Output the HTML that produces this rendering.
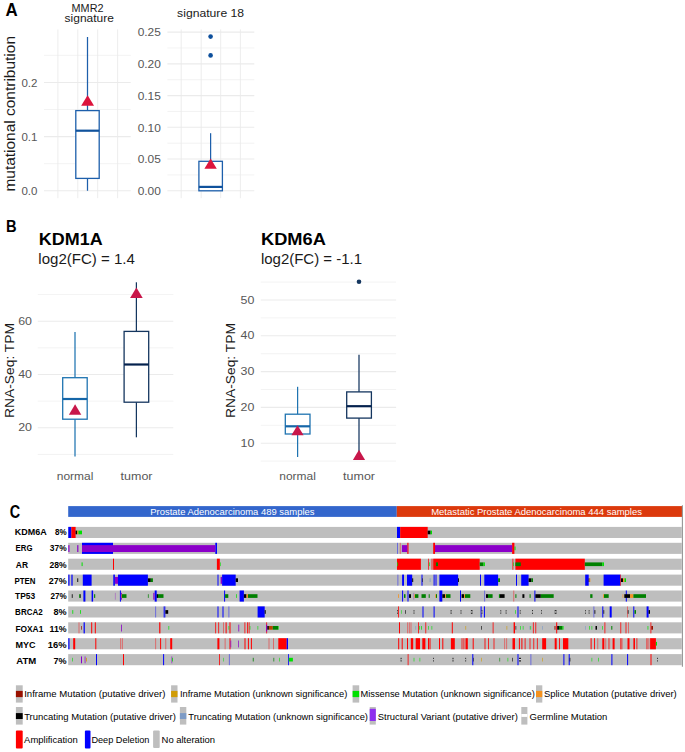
<!DOCTYPE html>
<html><head><meta charset="utf-8"><style>
html,body{margin:0;padding:0;background:#fff;}
#root{position:relative;width:685px;height:752px;overflow:hidden;background:#fff;}
svg{position:absolute;left:0;top:0;}
text{font-family:"Liberation Sans", sans-serif;}
</style></head><body><div id="root">
<svg width="685" height="752" viewBox="0 0 685 752" shape-rendering="auto">
<text x="5.40" y="15.50" font-size="17.6" fill="#000" font-weight="bold" text-anchor="start" textLength="12.20" lengthAdjust="spacingAndGlyphs" style='font-family:"Liberation Sans", sans-serif'>A</text>
<text x="71.60" y="11.50" font-size="10.6" fill="#1a1a1a" font-weight="normal" text-anchor="start" textLength="31.90" lengthAdjust="spacingAndGlyphs" style='font-family:"Liberation Sans", sans-serif'>MMR2</text>
<text x="64.60" y="22.30" font-size="11" fill="#1a1a1a" font-weight="normal" text-anchor="start" textLength="49.30" lengthAdjust="spacingAndGlyphs" style='font-family:"Liberation Sans", sans-serif'>signature</text>
<text x="177.10" y="16.90" font-size="10.8" fill="#1a1a1a" font-weight="normal" text-anchor="start" textLength="67.00" lengthAdjust="spacingAndGlyphs" style='font-family:"Liberation Sans", sans-serif'>signature 18</text>
<text x="15.50" y="191.60" font-size="14.5" fill="#1a1a1a" font-weight="normal" text-anchor="start" textLength="155.60" lengthAdjust="spacingAndGlyphs" transform="rotate(-90 15.50 191.60)" style='font-family:"Liberation Sans", sans-serif'>mutational contribution</text>
<line x1="44.00" y1="163.68" x2="130.70" y2="163.68" stroke="#ebebeb" stroke-width="0.6"/>
<line x1="44.00" y1="109.53" x2="130.70" y2="109.53" stroke="#ebebeb" stroke-width="0.6"/>
<line x1="44.00" y1="55.38" x2="130.70" y2="55.38" stroke="#ebebeb" stroke-width="0.6"/>
<line x1="44.00" y1="190.75" x2="130.70" y2="190.75" stroke="#ebebeb" stroke-width="1.1"/>
<line x1="44.00" y1="136.60" x2="130.70" y2="136.60" stroke="#ebebeb" stroke-width="1.1"/>
<line x1="44.00" y1="82.45" x2="130.70" y2="82.45" stroke="#ebebeb" stroke-width="1.1"/>
<line x1="57.90" y1="29.40" x2="57.90" y2="198.20" stroke="#ebebeb" stroke-width="0.9"/>
<line x1="77.80" y1="29.40" x2="77.80" y2="198.20" stroke="#ebebeb" stroke-width="0.9"/>
<line x1="97.70" y1="29.40" x2="97.70" y2="198.20" stroke="#ebebeb" stroke-width="0.9"/>
<line x1="117.60" y1="29.40" x2="117.60" y2="198.20" stroke="#ebebeb" stroke-width="0.9"/>
<text x="37.40" y="194.95" font-size="10" fill="#575757" font-weight="normal" text-anchor="end" textLength="16.00" lengthAdjust="spacingAndGlyphs" style='font-family:"Liberation Sans", sans-serif'>0.0</text>
<text x="37.40" y="140.80" font-size="10" fill="#575757" font-weight="normal" text-anchor="end" textLength="16.00" lengthAdjust="spacingAndGlyphs" style='font-family:"Liberation Sans", sans-serif'>0.1</text>
<text x="37.40" y="86.65" font-size="10" fill="#575757" font-weight="normal" text-anchor="end" textLength="16.00" lengthAdjust="spacingAndGlyphs" style='font-family:"Liberation Sans", sans-serif'>0.2</text>
<line x1="87.50" y1="37.00" x2="87.50" y2="110.60" stroke="#1d5fab" stroke-width="1.25"/>
<line x1="87.50" y1="178.40" x2="87.50" y2="190.75" stroke="#1d5fab" stroke-width="1.25"/>
<rect x="75.80" y="110.60" width="23.40" height="67.80" fill="#fff" stroke="#1d5fab" stroke-width="1.3"/>
<line x1="75.80" y1="130.70" x2="99.20" y2="130.70" stroke="#10529c" stroke-width="2.2"/>
<polygon points="87.60,95.20 81.15,105.80 94.05,105.80" fill="#dc143c"/>
<line x1="167.40" y1="174.93" x2="254.30" y2="174.93" stroke="#ebebeb" stroke-width="0.6"/>
<line x1="167.40" y1="143.19" x2="254.30" y2="143.19" stroke="#ebebeb" stroke-width="0.6"/>
<line x1="167.40" y1="111.45" x2="254.30" y2="111.45" stroke="#ebebeb" stroke-width="0.6"/>
<line x1="167.40" y1="79.71" x2="254.30" y2="79.71" stroke="#ebebeb" stroke-width="0.6"/>
<line x1="167.40" y1="47.97" x2="254.30" y2="47.97" stroke="#ebebeb" stroke-width="0.6"/>
<line x1="167.40" y1="190.80" x2="254.30" y2="190.80" stroke="#ebebeb" stroke-width="1.1"/>
<line x1="167.40" y1="159.06" x2="254.30" y2="159.06" stroke="#ebebeb" stroke-width="1.1"/>
<line x1="167.40" y1="127.32" x2="254.30" y2="127.32" stroke="#ebebeb" stroke-width="1.1"/>
<line x1="167.40" y1="95.58" x2="254.30" y2="95.58" stroke="#ebebeb" stroke-width="1.1"/>
<line x1="167.40" y1="63.84" x2="254.30" y2="63.84" stroke="#ebebeb" stroke-width="1.1"/>
<line x1="167.40" y1="32.10" x2="254.30" y2="32.10" stroke="#ebebeb" stroke-width="1.1"/>
<line x1="181.20" y1="29.40" x2="181.20" y2="198.20" stroke="#ebebeb" stroke-width="0.9"/>
<line x1="201.20" y1="29.40" x2="201.20" y2="198.20" stroke="#ebebeb" stroke-width="0.9"/>
<line x1="220.70" y1="29.40" x2="220.70" y2="198.20" stroke="#ebebeb" stroke-width="0.9"/>
<line x1="240.40" y1="29.40" x2="240.40" y2="198.20" stroke="#ebebeb" stroke-width="0.9"/>
<text x="160.90" y="195.00" font-size="10" fill="#575757" font-weight="normal" text-anchor="end" textLength="23.20" lengthAdjust="spacingAndGlyphs" style='font-family:"Liberation Sans", sans-serif'>0.00</text>
<text x="160.90" y="163.26" font-size="10" fill="#575757" font-weight="normal" text-anchor="end" textLength="23.20" lengthAdjust="spacingAndGlyphs" style='font-family:"Liberation Sans", sans-serif'>0.05</text>
<text x="160.90" y="131.52" font-size="10" fill="#575757" font-weight="normal" text-anchor="end" textLength="23.20" lengthAdjust="spacingAndGlyphs" style='font-family:"Liberation Sans", sans-serif'>0.10</text>
<text x="160.90" y="99.78" font-size="10" fill="#575757" font-weight="normal" text-anchor="end" textLength="23.20" lengthAdjust="spacingAndGlyphs" style='font-family:"Liberation Sans", sans-serif'>0.15</text>
<text x="160.90" y="68.04" font-size="10" fill="#575757" font-weight="normal" text-anchor="end" textLength="23.20" lengthAdjust="spacingAndGlyphs" style='font-family:"Liberation Sans", sans-serif'>0.20</text>
<text x="160.90" y="36.30" font-size="10" fill="#575757" font-weight="normal" text-anchor="end" textLength="23.20" lengthAdjust="spacingAndGlyphs" style='font-family:"Liberation Sans", sans-serif'>0.25</text>
<line x1="210.60" y1="133.20" x2="210.60" y2="161.30" stroke="#1d5fab" stroke-width="1.25"/>
<rect x="198.90" y="161.30" width="23.50" height="29.50" fill="#fff" stroke="#1d5fab" stroke-width="1.3"/>
<line x1="198.90" y1="186.90" x2="222.40" y2="186.90" stroke="#10529c" stroke-width="2.2"/>
<polygon points="210.60,158.40 204.40,168.80 216.80,168.80" fill="#dc143c"/>
<circle cx="210.60" cy="36.60" r="2.3" fill="#0d4f9c"/>
<circle cx="210.60" cy="55.40" r="2.3" fill="#0d4f9c"/>
<text x="6.00" y="232.00" font-size="17.2" fill="#000" font-weight="bold" text-anchor="start" textLength="10.60" lengthAdjust="spacingAndGlyphs" style='font-family:"Liberation Sans", sans-serif'>B</text>
<text x="38.80" y="244.60" font-size="15.6" fill="#000" font-weight="bold" text-anchor="start" textLength="63.80" lengthAdjust="spacingAndGlyphs" style='font-family:"Liberation Sans", sans-serif'>KDM1A</text>
<text x="38.30" y="264.10" font-size="14" fill="#1a1a1a" font-weight="normal" text-anchor="start" textLength="96.60" lengthAdjust="spacingAndGlyphs" style='font-family:"Liberation Sans", sans-serif'>log2(FC) = 1.4</text>
<text x="261.00" y="244.60" font-size="15.6" fill="#000" font-weight="bold" text-anchor="start" textLength="64.80" lengthAdjust="spacingAndGlyphs" style='font-family:"Liberation Sans", sans-serif'>KDM6A</text>
<text x="260.90" y="264.10" font-size="14" fill="#1a1a1a" font-weight="normal" text-anchor="start" textLength="101.20" lengthAdjust="spacingAndGlyphs" style='font-family:"Liberation Sans", sans-serif'>log2(FC) = -1.1</text>
<line x1="37.80" y1="454.45" x2="173.30" y2="454.45" stroke="#ebebeb" stroke-width="0.6"/>
<line x1="37.80" y1="401.15" x2="173.30" y2="401.15" stroke="#ebebeb" stroke-width="0.6"/>
<line x1="37.80" y1="347.85" x2="173.30" y2="347.85" stroke="#ebebeb" stroke-width="0.6"/>
<line x1="37.80" y1="294.55" x2="173.30" y2="294.55" stroke="#ebebeb" stroke-width="0.6"/>
<line x1="37.80" y1="427.80" x2="173.30" y2="427.80" stroke="#ebebeb" stroke-width="1.1"/>
<line x1="37.80" y1="374.50" x2="173.30" y2="374.50" stroke="#ebebeb" stroke-width="1.1"/>
<line x1="37.80" y1="321.20" x2="173.30" y2="321.20" stroke="#ebebeb" stroke-width="1.1"/>
<text x="32.00" y="431.40" font-size="10" fill="#575757" font-weight="normal" text-anchor="end" textLength="13.80" lengthAdjust="spacingAndGlyphs" style='font-family:"Liberation Sans", sans-serif'>20</text>
<text x="32.00" y="378.10" font-size="10" fill="#575757" font-weight="normal" text-anchor="end" textLength="13.80" lengthAdjust="spacingAndGlyphs" style='font-family:"Liberation Sans", sans-serif'>40</text>
<text x="32.00" y="324.80" font-size="10" fill="#575757" font-weight="normal" text-anchor="end" textLength="13.80" lengthAdjust="spacingAndGlyphs" style='font-family:"Liberation Sans", sans-serif'>60</text>
<text x="14.30" y="418.00" font-size="13.5" fill="#1a1a1a" font-weight="normal" text-anchor="start" textLength="95.00" lengthAdjust="spacingAndGlyphs" transform="rotate(-90 14.30 418.00)" style='font-family:"Liberation Sans", sans-serif'>RNA-Seq: TPM</text>
<line x1="75.00" y1="332.00" x2="75.00" y2="377.70" stroke="#1f74b1" stroke-width="1.25"/>
<line x1="75.00" y1="419.20" x2="75.00" y2="456.40" stroke="#1f74b1" stroke-width="1.25"/>
<rect x="62.70" y="377.70" width="24.50" height="41.50" fill="#fff" stroke="#1f74b1" stroke-width="1.3"/>
<line x1="62.70" y1="399.00" x2="87.20" y2="399.00" stroke="#1566a8" stroke-width="2.2"/>
<polygon points="75.10,404.30 68.90,414.80 81.30,414.80" fill="#c8174a"/>
<line x1="136.40" y1="282.30" x2="136.40" y2="331.40" stroke="#14365f" stroke-width="1.25"/>
<line x1="136.40" y1="402.20" x2="136.40" y2="437.30" stroke="#14365f" stroke-width="1.25"/>
<rect x="124.10" y="331.40" width="24.60" height="70.80" fill="#fff" stroke="#14365f" stroke-width="1.3"/>
<line x1="124.10" y1="364.50" x2="148.70" y2="364.50" stroke="#04214d" stroke-width="2.2"/>
<polygon points="136.40,287.60 130.10,298.10 142.70,298.10" fill="#c8174a"/>
<text x="56.80" y="479.50" font-size="10.5" fill="#575757" font-weight="normal" text-anchor="start" textLength="36.60" lengthAdjust="spacingAndGlyphs" style='font-family:"Liberation Sans", sans-serif'>normal</text>
<text x="120.60" y="479.50" font-size="10.5" fill="#575757" font-weight="normal" text-anchor="start" textLength="31.90" lengthAdjust="spacingAndGlyphs" style='font-family:"Liberation Sans", sans-serif'>tumor</text>
<line x1="260.80" y1="461.10" x2="396.10" y2="461.10" stroke="#ebebeb" stroke-width="0.6"/>
<line x1="260.80" y1="425.30" x2="396.10" y2="425.30" stroke="#ebebeb" stroke-width="0.6"/>
<line x1="260.80" y1="389.50" x2="396.10" y2="389.50" stroke="#ebebeb" stroke-width="0.6"/>
<line x1="260.80" y1="353.70" x2="396.10" y2="353.70" stroke="#ebebeb" stroke-width="0.6"/>
<line x1="260.80" y1="317.90" x2="396.10" y2="317.90" stroke="#ebebeb" stroke-width="0.6"/>
<line x1="260.80" y1="282.10" x2="396.10" y2="282.10" stroke="#ebebeb" stroke-width="0.6"/>
<line x1="260.80" y1="443.20" x2="396.10" y2="443.20" stroke="#ebebeb" stroke-width="1.1"/>
<line x1="260.80" y1="407.40" x2="396.10" y2="407.40" stroke="#ebebeb" stroke-width="1.1"/>
<line x1="260.80" y1="371.60" x2="396.10" y2="371.60" stroke="#ebebeb" stroke-width="1.1"/>
<line x1="260.80" y1="335.80" x2="396.10" y2="335.80" stroke="#ebebeb" stroke-width="1.1"/>
<line x1="260.80" y1="300.00" x2="396.10" y2="300.00" stroke="#ebebeb" stroke-width="1.1"/>
<text x="254.40" y="446.80" font-size="10" fill="#575757" font-weight="normal" text-anchor="end" textLength="13.80" lengthAdjust="spacingAndGlyphs" style='font-family:"Liberation Sans", sans-serif'>10</text>
<text x="254.40" y="411.00" font-size="10" fill="#575757" font-weight="normal" text-anchor="end" textLength="13.80" lengthAdjust="spacingAndGlyphs" style='font-family:"Liberation Sans", sans-serif'>20</text>
<text x="254.40" y="375.20" font-size="10" fill="#575757" font-weight="normal" text-anchor="end" textLength="13.80" lengthAdjust="spacingAndGlyphs" style='font-family:"Liberation Sans", sans-serif'>30</text>
<text x="254.40" y="339.40" font-size="10" fill="#575757" font-weight="normal" text-anchor="end" textLength="13.80" lengthAdjust="spacingAndGlyphs" style='font-family:"Liberation Sans", sans-serif'>40</text>
<text x="254.40" y="303.60" font-size="10" fill="#575757" font-weight="normal" text-anchor="end" textLength="13.80" lengthAdjust="spacingAndGlyphs" style='font-family:"Liberation Sans", sans-serif'>50</text>
<text x="235.40" y="418.00" font-size="13.5" fill="#1a1a1a" font-weight="normal" text-anchor="start" textLength="95.00" lengthAdjust="spacingAndGlyphs" transform="rotate(-90 235.40 418.00)" style='font-family:"Liberation Sans", sans-serif'>RNA-Seq: TPM</text>
<line x1="297.60" y1="386.80" x2="297.60" y2="414.20" stroke="#1f74b1" stroke-width="1.25"/>
<line x1="297.60" y1="434.00" x2="297.60" y2="457.00" stroke="#1f74b1" stroke-width="1.25"/>
<rect x="285.30" y="414.20" width="24.70" height="19.80" fill="#fff" stroke="#1f74b1" stroke-width="1.3"/>
<line x1="285.30" y1="426.30" x2="310.00" y2="426.30" stroke="#1566a8" stroke-width="2.2"/>
<polygon points="297.50,425.20 291.40,435.30 303.60,435.30" fill="#c8174a"/>
<line x1="359.00" y1="354.80" x2="359.00" y2="391.90" stroke="#14365f" stroke-width="1.25"/>
<line x1="359.00" y1="418.10" x2="359.00" y2="457.00" stroke="#14365f" stroke-width="1.25"/>
<rect x="346.70" y="391.90" width="24.70" height="26.20" fill="#fff" stroke="#14365f" stroke-width="1.3"/>
<line x1="346.70" y1="406.20" x2="371.40" y2="406.20" stroke="#04214d" stroke-width="2.2"/>
<polygon points="359.00,449.70 352.90,460.10 365.10,460.10" fill="#c8174a"/>
<circle cx="359.00" cy="281.80" r="2.3" fill="#14365f"/>
<text x="279.30" y="479.50" font-size="10.5" fill="#575757" font-weight="normal" text-anchor="start" textLength="36.60" lengthAdjust="spacingAndGlyphs" style='font-family:"Liberation Sans", sans-serif'>normal</text>
<text x="343.10" y="479.50" font-size="10.5" fill="#575757" font-weight="normal" text-anchor="start" textLength="31.90" lengthAdjust="spacingAndGlyphs" style='font-family:"Liberation Sans", sans-serif'>tumor</text>
<text x="9.70" y="518.20" font-size="18.2" fill="#000" font-weight="bold" text-anchor="start" textLength="10.40" lengthAdjust="spacingAndGlyphs" style='font-family:"Liberation Sans", sans-serif'>C</text>
<rect x="68.20" y="506.10" width="328.60" height="10.80" fill="#3366cc"/>
<rect x="396.80" y="506.10" width="285.50" height="10.80" fill="#dc390c"/>
<text x="150.30" y="515.30" font-size="9" fill="#fff" font-weight="normal" text-anchor="start" textLength="164.20" lengthAdjust="spacingAndGlyphs" style='font-family:"Liberation Sans", sans-serif'>Prostate Adenocarcinoma 489 samples</text>
<text x="431.20" y="515.30" font-size="9" fill="#fff" font-weight="normal" text-anchor="start" textLength="210.80" lengthAdjust="spacingAndGlyphs" style='font-family:"Liberation Sans", sans-serif'>Metastatic Prostate Adenocarcinoma 444 samples</text>
<line x1="682.40" y1="505.30" x2="682.40" y2="666.80" stroke="#959595" stroke-width="1.1"/>
<rect x="68.20" y="526.90" width="613.60" height="11.10" fill="#bebebe"/>
<text x="14.80" y="535.20" font-size="8.8" fill="#000" font-weight="bold" text-anchor="start" textLength="31.90" lengthAdjust="spacingAndGlyphs" style='font-family:"Liberation Sans", sans-serif'>KDM6A</text>
<text x="55.00" y="535.20" font-size="8.8" fill="#000" font-weight="bold" text-anchor="start" textLength="11.60" lengthAdjust="spacingAndGlyphs" style='font-family:"Liberation Sans", sans-serif'>8%</text>
<rect x="68.30" y="526.90" width="3.10" height="11.10" fill="#0000ff" fill-opacity="1"/>
<rect x="71.40" y="526.90" width="4.20" height="11.10" fill="#ff0000" fill-opacity="1"/>
<rect x="397.00" y="526.90" width="3.20" height="11.10" fill="#0000ff" fill-opacity="1"/>
<rect x="400.20" y="526.90" width="27.50" height="11.10" fill="#ff0000" fill-opacity="1"/>
<rect x="75.60" y="530.60" width="1.60" height="3.70" fill="#000000" fill-opacity="1"/>
<rect x="77.20" y="530.60" width="1.30" height="3.70" fill="#d09c06" fill-opacity="1"/>
<rect x="78.50" y="530.60" width="3.50" height="3.70" fill="#00e000" fill-opacity="1"/>
<rect x="427.70" y="530.60" width="2.90" height="3.70" fill="#000000" fill-opacity="1"/>
<rect x="430.60" y="530.60" width="1.40" height="3.70" fill="#00e000" fill-opacity="1"/>
<rect x="68.20" y="542.80" width="613.60" height="11.10" fill="#bebebe"/>
<text x="15.60" y="550.70" font-size="8.8" fill="#000" font-weight="bold" text-anchor="start" textLength="16.90" lengthAdjust="spacingAndGlyphs" style='font-family:"Liberation Sans", sans-serif'>ERG</text>
<text x="49.80" y="550.70" font-size="8.8" fill="#000" font-weight="bold" text-anchor="start" textLength="16.80" lengthAdjust="spacingAndGlyphs" style='font-family:"Liberation Sans", sans-serif'>37%</text>
<rect x="82.00" y="542.80" width="31.00" height="11.10" fill="#0000ff" fill-opacity="1"/>
<rect x="215.30" y="542.80" width="1.70" height="11.10" fill="#0000ff" fill-opacity="1"/>
<rect x="397.00" y="542.80" width="0.80" height="11.10" fill="#0000ff" fill-opacity="0.55"/>
<rect x="399.80" y="542.80" width="0.80" height="11.10" fill="#ff0000" fill-opacity="0.55"/>
<rect x="407.30" y="542.80" width="1.20" height="11.10" fill="#ff0000" fill-opacity="1"/>
<rect x="433.20" y="542.80" width="1.80" height="11.10" fill="#ff0000" fill-opacity="1"/>
<rect x="512.10" y="542.80" width="2.30" height="11.10" fill="#ff0000" fill-opacity="1"/>
<rect x="68.30" y="545.13" width="1.20" height="6.88" fill="#8b00c9" fill-opacity="1"/>
<rect x="77.20" y="545.13" width="1.20" height="6.88" fill="#8b00c9" fill-opacity="1"/>
<rect x="82.00" y="545.13" width="133.30" height="6.88" fill="#8b00c9" fill-opacity="1"/>
<rect x="401.90" y="545.13" width="5.40" height="6.88" fill="#8b00c9" fill-opacity="1"/>
<rect x="435.00" y="545.13" width="77.10" height="6.88" fill="#8b00c9" fill-opacity="1"/>
<rect x="514.50" y="546.50" width="1.00" height="3.70" fill="#00e000" fill-opacity="1"/>
<rect x="68.20" y="558.70" width="613.60" height="11.10" fill="#bebebe"/>
<text x="15.80" y="568.00" font-size="8.8" fill="#000" font-weight="bold" text-anchor="start" textLength="12.20" lengthAdjust="spacingAndGlyphs" style='font-family:"Liberation Sans", sans-serif'>AR</text>
<text x="49.50" y="568.00" font-size="8.8" fill="#000" font-weight="bold" text-anchor="start" textLength="17.10" lengthAdjust="spacingAndGlyphs" style='font-family:"Liberation Sans", sans-serif'>28%</text>
<rect x="113.00" y="558.70" width="1.00" height="11.10" fill="#ff0000" fill-opacity="1"/>
<rect x="216.90" y="558.70" width="2.90" height="11.10" fill="#ff0000" fill-opacity="1"/>
<rect x="397.00" y="558.70" width="23.90" height="11.10" fill="#ff0000" fill-opacity="1"/>
<rect x="428.30" y="558.70" width="0.70" height="11.10" fill="#ff0000" fill-opacity="1"/>
<rect x="431.60" y="558.70" width="0.80" height="11.10" fill="#ff0000" fill-opacity="1"/>
<rect x="433.20" y="558.70" width="46.50" height="11.10" fill="#ff0000" fill-opacity="1"/>
<rect x="512.50" y="558.70" width="0.80" height="11.10" fill="#ff0000" fill-opacity="1"/>
<rect x="515.40" y="558.70" width="69.40" height="11.10" fill="#ff0000" fill-opacity="1"/>
<rect x="81.60" y="562.40" width="1.00" height="3.70" fill="#00e000" fill-opacity="1"/>
<rect x="220.00" y="562.40" width="0.60" height="3.70" fill="#00e000" fill-opacity="1"/>
<rect x="397.30" y="562.40" width="0.70" height="3.70" fill="#00e000" fill-opacity="1"/>
<rect x="429.10" y="562.40" width="0.60" height="3.70" fill="#00e000" fill-opacity="1"/>
<rect x="435.90" y="562.40" width="2.10" height="3.70" fill="#008000" fill-opacity="1"/>
<rect x="479.70" y="562.40" width="3.80" height="3.70" fill="#008000" fill-opacity="1"/>
<rect x="483.50" y="562.40" width="1.40" height="3.70" fill="#00e000" fill-opacity="1"/>
<rect x="513.40" y="562.40" width="0.60" height="3.70" fill="#00e000" fill-opacity="1"/>
<rect x="515.40" y="562.40" width="5.40" height="3.70" fill="#008000" fill-opacity="1"/>
<rect x="584.80" y="562.40" width="17.50" height="3.70" fill="#008000" fill-opacity="1"/>
<rect x="602.30" y="562.40" width="1.70" height="3.70" fill="#00e000" fill-opacity="1"/>
<rect x="68.20" y="574.60" width="613.60" height="11.10" fill="#bebebe"/>
<text x="14.50" y="583.50" font-size="8.8" fill="#000" font-weight="bold" text-anchor="start" textLength="21.00" lengthAdjust="spacingAndGlyphs" style='font-family:"Liberation Sans", sans-serif'>PTEN</text>
<text x="48.70" y="583.50" font-size="8.8" fill="#000" font-weight="bold" text-anchor="start" textLength="17.90" lengthAdjust="spacingAndGlyphs" style='font-family:"Liberation Sans", sans-serif'>27%</text>
<rect x="68.30" y="574.60" width="1.20" height="11.10" fill="#0000ff" fill-opacity="1"/>
<rect x="71.40" y="574.60" width="1.20" height="11.10" fill="#0000ff" fill-opacity="1"/>
<rect x="82.80" y="574.60" width="8.80" height="11.10" fill="#0000ff" fill-opacity="1"/>
<rect x="113.30" y="574.60" width="1.60" height="11.10" fill="#0000ff" fill-opacity="1"/>
<rect x="118.00" y="574.60" width="29.90" height="11.10" fill="#0000ff" fill-opacity="1"/>
<rect x="217.50" y="574.60" width="1.00" height="11.10" fill="#0000ff" fill-opacity="1"/>
<rect x="222.10" y="574.60" width="13.60" height="11.10" fill="#0000ff" fill-opacity="1"/>
<rect x="397.50" y="574.60" width="0.80" height="11.10" fill="#0000ff" fill-opacity="0.55"/>
<rect x="402.10" y="574.60" width="1.90" height="11.10" fill="#0000ff" fill-opacity="1"/>
<rect x="407.00" y="574.60" width="5.20" height="11.10" fill="#0000ff" fill-opacity="1"/>
<rect x="421.50" y="574.60" width="1.00" height="11.10" fill="#0000ff" fill-opacity="1"/>
<rect x="433.60" y="574.60" width="1.00" height="11.10" fill="#0000ff" fill-opacity="1"/>
<rect x="435.50" y="574.60" width="1.00" height="11.10" fill="#0000ff" fill-opacity="1"/>
<rect x="439.40" y="574.60" width="18.70" height="11.10" fill="#0000ff" fill-opacity="1"/>
<rect x="480.00" y="574.60" width="1.00" height="11.10" fill="#0000ff" fill-opacity="1"/>
<rect x="484.30" y="574.60" width="13.80" height="11.10" fill="#0000ff" fill-opacity="1"/>
<rect x="516.00" y="574.60" width="1.00" height="11.10" fill="#0000ff" fill-opacity="1"/>
<rect x="521.20" y="574.60" width="7.40" height="11.10" fill="#0000ff" fill-opacity="1"/>
<rect x="585.20" y="574.60" width="3.50" height="11.10" fill="#0000ff" fill-opacity="1"/>
<rect x="603.60" y="574.60" width="16.80" height="11.10" fill="#0000ff" fill-opacity="1"/>
<rect x="620.40" y="574.60" width="0.60" height="11.10" fill="#ff0000" fill-opacity="1"/>
<rect x="114.90" y="576.93" width="3.10" height="6.88" fill="#8b00c9" fill-opacity="1"/>
<rect x="220.60" y="576.93" width="1.40" height="6.88" fill="#8b00c9" fill-opacity="1"/>
<rect x="77.30" y="578.30" width="0.90" height="3.70" fill="#000000" fill-opacity="1"/>
<rect x="147.90" y="578.30" width="2.90" height="3.70" fill="#000000" fill-opacity="1"/>
<rect x="150.80" y="578.30" width="2.10" height="3.70" fill="#008000" fill-opacity="1"/>
<rect x="235.70" y="578.30" width="2.30" height="3.70" fill="#000000" fill-opacity="1"/>
<rect x="412.20" y="578.30" width="1.00" height="3.70" fill="#000000" fill-opacity="1"/>
<rect x="422.50" y="578.30" width="0.50" height="3.70" fill="#000000" fill-opacity="1"/>
<rect x="429.70" y="578.30" width="0.80" height="3.70" fill="#7d9bc6" fill-opacity="1"/>
<rect x="458.10" y="578.30" width="0.90" height="3.70" fill="#000000" fill-opacity="1"/>
<rect x="498.10" y="578.30" width="1.90" height="3.70" fill="#008000" fill-opacity="1"/>
<rect x="528.60" y="578.30" width="2.90" height="3.70" fill="#000000" fill-opacity="1"/>
<rect x="531.50" y="578.30" width="1.50" height="3.70" fill="#008000" fill-opacity="1"/>
<rect x="588.70" y="578.30" width="0.80" height="3.70" fill="#000000" fill-opacity="1"/>
<rect x="589.50" y="578.30" width="0.80" height="3.70" fill="#f5921e" fill-opacity="1"/>
<rect x="621.00" y="578.30" width="2.00" height="3.70" fill="#000000" fill-opacity="1"/>
<rect x="623.00" y="578.30" width="1.50" height="3.70" fill="#f5921e" fill-opacity="1"/>
<rect x="624.50" y="578.30" width="1.50" height="3.70" fill="#00e000" fill-opacity="1"/>
<rect x="68.20" y="590.50" width="613.60" height="11.10" fill="#bebebe"/>
<text x="15.10" y="598.80" font-size="8.8" fill="#000" font-weight="bold" text-anchor="start" textLength="20.10" lengthAdjust="spacingAndGlyphs" style='font-family:"Liberation Sans", sans-serif'>TP53</text>
<text x="50.40" y="598.80" font-size="8.8" fill="#000" font-weight="bold" text-anchor="start" textLength="16.20" lengthAdjust="spacingAndGlyphs" style='font-family:"Liberation Sans", sans-serif'>27%</text>
<rect x="83.40" y="590.50" width="2.00" height="11.10" fill="#0000ff" fill-opacity="1"/>
<rect x="91.60" y="590.50" width="1.50" height="11.10" fill="#0000ff" fill-opacity="1"/>
<rect x="119.90" y="590.50" width="1.00" height="11.10" fill="#0000ff" fill-opacity="1"/>
<rect x="154.70" y="590.50" width="2.00" height="11.10" fill="#0000ff" fill-opacity="1"/>
<rect x="224.10" y="590.50" width="1.00" height="11.10" fill="#0000ff" fill-opacity="1"/>
<rect x="239.60" y="590.50" width="4.30" height="11.10" fill="#0000ff" fill-opacity="1"/>
<rect x="402.10" y="590.50" width="1.00" height="11.10" fill="#0000ff" fill-opacity="1"/>
<rect x="407.50" y="590.50" width="1.00" height="11.10" fill="#0000ff" fill-opacity="1"/>
<rect x="439.40" y="590.50" width="2.90" height="11.10" fill="#0000ff" fill-opacity="1"/>
<rect x="460.00" y="590.50" width="1.00" height="11.10" fill="#0000ff" fill-opacity="1"/>
<rect x="484.30" y="590.50" width="0.80" height="11.10" fill="#0000ff" fill-opacity="0.55"/>
<rect x="513.40" y="590.50" width="0.80" height="11.10" fill="#ff0000" fill-opacity="0.55"/>
<rect x="534.40" y="590.50" width="1.00" height="11.10" fill="#0000ff" fill-opacity="1"/>
<rect x="625.80" y="590.50" width="1.00" height="11.10" fill="#0000ff" fill-opacity="1"/>
<rect x="114.90" y="592.83" width="0.80" height="6.88" fill="#8b00c9" fill-opacity="0.4"/>
<rect x="120.90" y="592.83" width="1.00" height="6.88" fill="#8b00c9" fill-opacity="1"/>
<rect x="153.30" y="592.83" width="1.20" height="6.88" fill="#8b00c9" fill-opacity="1"/>
<rect x="413.40" y="592.83" width="0.80" height="6.88" fill="#8b00c9" fill-opacity="0.4"/>
<rect x="71.80" y="594.20" width="0.80" height="3.70" fill="#000000" fill-opacity="1"/>
<rect x="79.20" y="594.20" width="1.00" height="3.70" fill="#008000" fill-opacity="1"/>
<rect x="80.20" y="594.20" width="0.60" height="3.70" fill="#000000" fill-opacity="1"/>
<rect x="94.10" y="594.20" width="1.10" height="3.70" fill="#008000" fill-opacity="1"/>
<rect x="121.50" y="594.20" width="0.50" height="3.70" fill="#f5921e" fill-opacity="1"/>
<rect x="121.90" y="594.20" width="4.60" height="3.70" fill="#008000" fill-opacity="1"/>
<rect x="147.90" y="594.20" width="0.70" height="3.70" fill="#008000" fill-opacity="1"/>
<rect x="156.70" y="594.20" width="1.30" height="3.70" fill="#000000" fill-opacity="1"/>
<rect x="158.00" y="594.20" width="5.50" height="3.70" fill="#008000" fill-opacity="1"/>
<rect x="225.10" y="594.20" width="3.20" height="3.70" fill="#008000" fill-opacity="1"/>
<rect x="236.30" y="594.20" width="0.70" height="3.70" fill="#00e000" fill-opacity="1"/>
<rect x="243.90" y="594.20" width="2.60" height="3.70" fill="#000000" fill-opacity="1"/>
<rect x="246.50" y="594.20" width="1.50" height="3.70" fill="#f5921e" fill-opacity="1"/>
<rect x="248.00" y="594.20" width="9.50" height="3.70" fill="#008000" fill-opacity="1"/>
<rect x="398.20" y="594.20" width="0.80" height="3.70" fill="#f5921e" fill-opacity="1"/>
<rect x="404.00" y="594.20" width="1.50" height="3.70" fill="#008000" fill-opacity="1"/>
<rect x="409.00" y="594.20" width="2.00" height="3.70" fill="#000000" fill-opacity="1"/>
<rect x="414.30" y="594.20" width="0.70" height="3.70" fill="#f5921e" fill-opacity="1"/>
<rect x="415.00" y="594.20" width="3.40" height="3.70" fill="#008000" fill-opacity="1"/>
<rect x="421.50" y="594.20" width="4.30" height="3.70" fill="#008000" fill-opacity="1"/>
<rect x="428.70" y="594.20" width="1.00" height="3.70" fill="#008000" fill-opacity="1"/>
<rect x="435.30" y="594.20" width="0.70" height="3.70" fill="#f5921e" fill-opacity="1"/>
<rect x="436.00" y="594.20" width="1.00" height="3.70" fill="#008000" fill-opacity="1"/>
<rect x="442.30" y="594.20" width="2.70" height="3.70" fill="#000000" fill-opacity="1"/>
<rect x="445.00" y="594.20" width="1.00" height="3.70" fill="#f5921e" fill-opacity="1"/>
<rect x="446.00" y="594.20" width="4.50" height="3.70" fill="#008000" fill-opacity="1"/>
<rect x="461.60" y="594.20" width="2.40" height="3.70" fill="#000000" fill-opacity="1"/>
<rect x="464.00" y="594.20" width="1.00" height="3.70" fill="#f5921e" fill-opacity="1"/>
<rect x="465.00" y="594.20" width="5.30" height="3.70" fill="#008000" fill-opacity="1"/>
<rect x="486.00" y="594.20" width="2.00" height="3.70" fill="#000000" fill-opacity="1"/>
<rect x="488.00" y="594.20" width="4.60" height="3.70" fill="#008000" fill-opacity="1"/>
<rect x="498.90" y="594.20" width="1.10" height="3.70" fill="#008000" fill-opacity="1"/>
<rect x="500.00" y="594.20" width="4.60" height="3.70" fill="#000000" fill-opacity="1"/>
<rect x="515.40" y="594.20" width="1.00" height="3.70" fill="#008000" fill-opacity="1"/>
<rect x="522.40" y="594.20" width="2.00" height="3.70" fill="#000000" fill-opacity="1"/>
<rect x="529.60" y="594.20" width="1.00" height="3.70" fill="#008000" fill-opacity="1"/>
<rect x="535.40" y="594.20" width="5.40" height="3.70" fill="#000000" fill-opacity="1"/>
<rect x="540.80" y="594.20" width="12.90" height="3.70" fill="#008000" fill-opacity="1"/>
<rect x="590.20" y="594.20" width="2.30" height="3.70" fill="#008000" fill-opacity="1"/>
<rect x="603.20" y="594.20" width="0.80" height="3.70" fill="#f5921e" fill-opacity="1"/>
<rect x="604.00" y="594.20" width="4.70" height="3.70" fill="#008000" fill-opacity="1"/>
<rect x="622.60" y="594.20" width="0.70" height="3.70" fill="#f5921e" fill-opacity="1"/>
<rect x="624.30" y="594.20" width="5.80" height="3.70" fill="#000000" fill-opacity="1"/>
<rect x="630.10" y="594.20" width="3.30" height="3.70" fill="#f5921e" fill-opacity="1"/>
<rect x="633.40" y="594.20" width="12.60" height="3.70" fill="#008000" fill-opacity="1"/>
<rect x="68.20" y="606.40" width="613.60" height="11.10" fill="#bebebe"/>
<text x="15.10" y="614.80" font-size="8.8" fill="#000" font-weight="bold" text-anchor="start" textLength="27.60" lengthAdjust="spacingAndGlyphs" style='font-family:"Liberation Sans", sans-serif'>BRCA2</text>
<text x="53.50" y="614.80" font-size="8.8" fill="#000" font-weight="bold" text-anchor="start" textLength="13.10" lengthAdjust="spacingAndGlyphs" style='font-family:"Liberation Sans", sans-serif'>8%</text>
<rect x="155.30" y="606.40" width="0.80" height="11.10" fill="#0000ff" fill-opacity="0.55"/>
<rect x="163.40" y="606.40" width="0.80" height="11.10" fill="#0000ff" fill-opacity="0.55"/>
<rect x="164.30" y="606.40" width="1.00" height="11.10" fill="#0000ff" fill-opacity="1"/>
<rect x="217.50" y="606.40" width="1.00" height="11.10" fill="#0000ff" fill-opacity="1"/>
<rect x="222.50" y="606.40" width="1.00" height="11.10" fill="#0000ff" fill-opacity="1"/>
<rect x="228.50" y="606.40" width="0.80" height="11.10" fill="#0000ff" fill-opacity="0.55"/>
<rect x="257.60" y="606.40" width="7.10" height="11.10" fill="#0000ff" fill-opacity="1"/>
<rect x="398.20" y="606.40" width="0.80" height="11.10" fill="#ff0000" fill-opacity="1"/>
<rect x="422.50" y="606.40" width="1.00" height="11.10" fill="#0000ff" fill-opacity="1"/>
<rect x="433.60" y="606.40" width="1.00" height="11.10" fill="#0000ff" fill-opacity="1"/>
<rect x="480.60" y="606.40" width="1.00" height="11.10" fill="#0000ff" fill-opacity="1"/>
<rect x="483.90" y="606.40" width="1.00" height="11.10" fill="#0000ff" fill-opacity="1"/>
<rect x="517.50" y="606.40" width="1.00" height="11.10" fill="#0000ff" fill-opacity="1"/>
<rect x="593.50" y="606.40" width="0.80" height="11.10" fill="#0000ff" fill-opacity="0.55"/>
<rect x="602.30" y="606.40" width="1.00" height="11.10" fill="#0000ff" fill-opacity="1"/>
<rect x="609.70" y="606.40" width="2.00" height="11.10" fill="#0000ff" fill-opacity="1"/>
<rect x="627.10" y="606.40" width="0.80" height="11.10" fill="#ff0000" fill-opacity="0.55"/>
<rect x="633.30" y="606.40" width="1.00" height="11.10" fill="#0000ff" fill-opacity="1"/>
<rect x="646.60" y="606.40" width="2.00" height="11.10" fill="#0000ff" fill-opacity="1"/>
<rect x="72.40" y="610.10" width="0.80" height="3.70" fill="#00e000" fill-opacity="1"/>
<rect x="80.20" y="610.10" width="0.80" height="3.70" fill="#00e000" fill-opacity="1"/>
<rect x="165.40" y="610.10" width="2.80" height="3.70" fill="#000000" fill-opacity="1"/>
<rect x="264.70" y="610.10" width="1.00" height="3.70" fill="#000000" fill-opacity="1"/>
<rect x="397.00" y="610.10" width="0.80" height="3.70" fill="#1e1e1e" fill-opacity="1"/>
<rect x="397.00" y="611.35" width="0.80" height="1.2" fill="#e8e8e8"/>
<rect x="401.50" y="610.10" width="0.50" height="3.70" fill="#00e000" fill-opacity="1"/>
<rect x="405.40" y="610.10" width="0.60" height="3.70" fill="#000000" fill-opacity="1"/>
<rect x="413.60" y="610.10" width="0.80" height="3.70" fill="#1e1e1e" fill-opacity="1"/>
<rect x="413.60" y="611.35" width="0.80" height="1.2" fill="#e8e8e8"/>
<rect x="450.60" y="610.10" width="1.00" height="3.70" fill="#1e1e1e" fill-opacity="1"/>
<rect x="450.60" y="611.35" width="1.00" height="1.2" fill="#e8e8e8"/>
<rect x="460.60" y="610.10" width="0.80" height="3.70" fill="#1e1e1e" fill-opacity="1"/>
<rect x="460.60" y="611.35" width="0.80" height="1.2" fill="#e8e8e8"/>
<rect x="470.90" y="610.10" width="1.60" height="3.70" fill="#1e1e1e" fill-opacity="1"/>
<rect x="470.90" y="611.35" width="1.60" height="1.2" fill="#e8e8e8"/>
<rect x="481.60" y="610.10" width="0.80" height="3.70" fill="#1e1e1e" fill-opacity="1"/>
<rect x="481.60" y="611.35" width="0.80" height="1.2" fill="#e8e8e8"/>
<rect x="500.40" y="610.10" width="0.80" height="3.70" fill="#1e1e1e" fill-opacity="1"/>
<rect x="500.40" y="611.35" width="0.80" height="1.2" fill="#e8e8e8"/>
<rect x="505.70" y="610.10" width="0.80" height="3.70" fill="#1e1e1e" fill-opacity="1"/>
<rect x="505.70" y="611.35" width="0.80" height="1.2" fill="#e8e8e8"/>
<rect x="515.00" y="610.10" width="0.60" height="3.70" fill="#00e000" fill-opacity="1"/>
<rect x="519.80" y="610.10" width="0.80" height="3.70" fill="#1e1e1e" fill-opacity="1"/>
<rect x="519.80" y="611.35" width="0.80" height="1.2" fill="#e8e8e8"/>
<rect x="532.00" y="610.10" width="1.00" height="3.70" fill="#1e1e1e" fill-opacity="1"/>
<rect x="532.00" y="611.35" width="1.00" height="1.2" fill="#e8e8e8"/>
<rect x="541.20" y="610.10" width="0.80" height="3.70" fill="#1e1e1e" fill-opacity="1"/>
<rect x="541.20" y="611.35" width="0.80" height="1.2" fill="#e8e8e8"/>
<rect x="554.70" y="610.10" width="1.80" height="3.70" fill="#1e1e1e" fill-opacity="1"/>
<rect x="554.70" y="611.35" width="1.80" height="1.2" fill="#e8e8e8"/>
<rect x="585.20" y="610.10" width="0.80" height="3.70" fill="#1e1e1e" fill-opacity="1"/>
<rect x="585.20" y="611.35" width="0.80" height="1.2" fill="#e8e8e8"/>
<rect x="588.70" y="610.10" width="0.80" height="3.70" fill="#1e1e1e" fill-opacity="1"/>
<rect x="588.70" y="611.35" width="0.80" height="1.2" fill="#e8e8e8"/>
<rect x="594.50" y="610.10" width="0.80" height="3.70" fill="#000000" fill-opacity="1"/>
<rect x="603.50" y="610.10" width="0.70" height="3.70" fill="#000000" fill-opacity="1"/>
<rect x="627.80" y="610.10" width="0.70" height="3.70" fill="#000000" fill-opacity="1"/>
<rect x="634.50" y="610.10" width="1.50" height="3.70" fill="#008000" fill-opacity="1"/>
<rect x="648.60" y="610.10" width="1.40" height="3.70" fill="#000000" fill-opacity="1"/>
<rect x="68.20" y="622.30" width="613.60" height="11.10" fill="#bebebe"/>
<text x="15.40" y="631.70" font-size="8.8" fill="#000" font-weight="bold" text-anchor="start" textLength="27.90" lengthAdjust="spacingAndGlyphs" style='font-family:"Liberation Sans", sans-serif'>FOXA1</text>
<text x="49.50" y="631.70" font-size="8.8" fill="#000" font-weight="bold" text-anchor="start" textLength="17.10" lengthAdjust="spacingAndGlyphs" style='font-family:"Liberation Sans", sans-serif'>11%</text>
<rect x="78.60" y="622.30" width="0.80" height="11.10" fill="#ff0000" fill-opacity="0.55"/>
<rect x="83.60" y="622.30" width="1.20" height="11.10" fill="#0000ff" fill-opacity="1"/>
<rect x="91.20" y="622.30" width="1.00" height="11.10" fill="#ff0000" fill-opacity="1"/>
<rect x="94.80" y="622.30" width="1.00" height="11.10" fill="#ff0000" fill-opacity="1"/>
<rect x="159.20" y="622.30" width="1.20" height="11.10" fill="#ff0000" fill-opacity="1"/>
<rect x="215.30" y="622.30" width="0.80" height="11.10" fill="#ff0000" fill-opacity="1"/>
<rect x="218.30" y="622.30" width="0.80" height="11.10" fill="#ff0000" fill-opacity="1"/>
<rect x="223.10" y="622.30" width="0.80" height="11.10" fill="#ff0000" fill-opacity="0.55"/>
<rect x="225.60" y="622.30" width="1.00" height="11.10" fill="#ff0000" fill-opacity="1"/>
<rect x="229.50" y="622.30" width="1.00" height="11.10" fill="#ff0000" fill-opacity="1"/>
<rect x="244.50" y="622.30" width="0.80" height="11.10" fill="#ff0000" fill-opacity="1"/>
<rect x="247.20" y="622.30" width="0.80" height="11.10" fill="#ff0000" fill-opacity="1"/>
<rect x="248.70" y="622.30" width="0.80" height="11.10" fill="#ff0000" fill-opacity="1"/>
<rect x="266.30" y="622.30" width="0.80" height="11.10" fill="#ff0000" fill-opacity="1"/>
<rect x="399.00" y="622.30" width="1.00" height="11.10" fill="#ff0000" fill-opacity="1"/>
<rect x="407.30" y="622.30" width="0.80" height="11.10" fill="#ff0000" fill-opacity="0.55"/>
<rect x="408.90" y="622.30" width="0.80" height="11.10" fill="#ff0000" fill-opacity="0.55"/>
<rect x="410.60" y="622.30" width="0.80" height="11.10" fill="#ff0000" fill-opacity="0.55"/>
<rect x="418.20" y="622.30" width="0.80" height="11.10" fill="#ff0000" fill-opacity="1"/>
<rect x="425.40" y="622.30" width="0.80" height="11.10" fill="#ff0000" fill-opacity="1"/>
<rect x="451.80" y="622.30" width="1.00" height="11.10" fill="#ff0000" fill-opacity="1"/>
<rect x="492.70" y="622.30" width="0.80" height="11.10" fill="#ff0000" fill-opacity="1"/>
<rect x="513.60" y="622.30" width="1.40" height="11.10" fill="#ff0000" fill-opacity="1"/>
<rect x="532.90" y="622.30" width="0.80" height="11.10" fill="#ff0000" fill-opacity="1"/>
<rect x="535.40" y="622.30" width="0.80" height="11.10" fill="#ff0000" fill-opacity="1"/>
<rect x="556.20" y="622.30" width="1.00" height="11.10" fill="#ff0000" fill-opacity="1"/>
<rect x="604.50" y="622.30" width="0.80" height="11.10" fill="#ff0000" fill-opacity="1"/>
<rect x="620.40" y="622.30" width="0.80" height="11.10" fill="#ff0000" fill-opacity="1"/>
<rect x="625.60" y="622.30" width="0.80" height="11.10" fill="#ff0000" fill-opacity="1"/>
<rect x="628.20" y="622.30" width="0.80" height="11.10" fill="#ff0000" fill-opacity="0.55"/>
<rect x="650.50" y="622.30" width="0.80" height="11.10" fill="#ff0000" fill-opacity="1"/>
<rect x="121.00" y="624.63" width="0.80" height="6.88" fill="#8b00c9" fill-opacity="1"/>
<rect x="238.40" y="624.63" width="0.80" height="6.88" fill="#8b00c9" fill-opacity="1"/>
<rect x="266.10" y="624.63" width="1.00" height="6.88" fill="#8b00c9" fill-opacity="1"/>
<rect x="81.30" y="626.00" width="0.70" height="3.70" fill="#991100" fill-opacity="1"/>
<rect x="168.50" y="626.00" width="0.70" height="3.70" fill="#00e000" fill-opacity="1"/>
<rect x="228.60" y="626.00" width="0.60" height="3.70" fill="#00e000" fill-opacity="1"/>
<rect x="249.70" y="626.00" width="0.60" height="3.70" fill="#00e000" fill-opacity="1"/>
<rect x="257.60" y="626.00" width="0.60" height="3.70" fill="#00e000" fill-opacity="1"/>
<rect x="267.30" y="626.00" width="1.60" height="3.70" fill="#000000" fill-opacity="1"/>
<rect x="268.90" y="626.00" width="3.90" height="3.70" fill="#bb4400" fill-opacity="1"/>
<rect x="272.80" y="626.00" width="5.40" height="3.70" fill="#008000" fill-opacity="1"/>
<rect x="278.20" y="626.00" width="0.50" height="3.70" fill="#00e000" fill-opacity="1"/>
<rect x="415.50" y="626.00" width="0.60" height="3.70" fill="#7d9bc6" fill-opacity="1"/>
<rect x="419.40" y="626.00" width="0.60" height="3.70" fill="#00e000" fill-opacity="1"/>
<rect x="421.30" y="626.00" width="0.70" height="3.70" fill="#00e000" fill-opacity="1"/>
<rect x="428.10" y="626.00" width="0.60" height="3.70" fill="#00e000" fill-opacity="1"/>
<rect x="431.60" y="626.00" width="0.60" height="3.70" fill="#00e000" fill-opacity="1"/>
<rect x="465.50" y="626.00" width="0.60" height="3.70" fill="#d09c06" fill-opacity="1"/>
<rect x="481.40" y="626.00" width="0.60" height="3.70" fill="#000000" fill-opacity="1"/>
<rect x="506.60" y="626.00" width="0.60" height="3.70" fill="#d09c06" fill-opacity="1"/>
<rect x="515.60" y="626.00" width="0.60" height="3.70" fill="#000000" fill-opacity="1"/>
<rect x="520.20" y="626.00" width="0.60" height="3.70" fill="#00e000" fill-opacity="1"/>
<rect x="522.80" y="626.00" width="0.60" height="3.70" fill="#00e000" fill-opacity="1"/>
<rect x="529.60" y="626.00" width="0.60" height="3.70" fill="#7d9bc6" fill-opacity="1"/>
<rect x="530.50" y="626.00" width="0.60" height="3.70" fill="#00e000" fill-opacity="1"/>
<rect x="542.20" y="626.00" width="0.60" height="3.70" fill="#7d9bc6" fill-opacity="1"/>
<rect x="554.50" y="626.00" width="1.00" height="3.70" fill="#991100" fill-opacity="1"/>
<rect x="557.20" y="626.00" width="1.80" height="3.70" fill="#000000" fill-opacity="1"/>
<rect x="559.00" y="626.00" width="3.50" height="3.70" fill="#008000" fill-opacity="1"/>
<rect x="562.50" y="626.00" width="1.00" height="3.70" fill="#00e000" fill-opacity="1"/>
<rect x="585.40" y="626.00" width="0.60" height="3.70" fill="#7d9bc6" fill-opacity="1"/>
<rect x="589.00" y="626.00" width="0.60" height="3.70" fill="#00e000" fill-opacity="1"/>
<rect x="591.60" y="626.00" width="0.60" height="3.70" fill="#00e000" fill-opacity="1"/>
<rect x="595.50" y="626.00" width="1.50" height="3.70" fill="#000000" fill-opacity="1"/>
<rect x="602.30" y="626.00" width="0.60" height="3.70" fill="#00e000" fill-opacity="1"/>
<rect x="611.30" y="626.00" width="1.00" height="3.70" fill="#008000" fill-opacity="1"/>
<rect x="647.60" y="626.00" width="0.70" height="3.70" fill="#00e000" fill-opacity="1"/>
<rect x="651.30" y="626.00" width="1.70" height="3.70" fill="#991100" fill-opacity="1"/>
<rect x="68.20" y="638.20" width="613.60" height="11.10" fill="#bebebe"/>
<text x="15.40" y="647.80" font-size="8.8" fill="#000" font-weight="bold" text-anchor="start" textLength="20.10" lengthAdjust="spacingAndGlyphs" style='font-family:"Liberation Sans", sans-serif'>MYC</text>
<text x="47.80" y="647.80" font-size="8.8" fill="#000" font-weight="bold" text-anchor="start" textLength="18.80" lengthAdjust="spacingAndGlyphs" style='font-family:"Liberation Sans", sans-serif'>16%</text>
<rect x="68.30" y="638.20" width="1.20" height="11.10" fill="#0000ff" fill-opacity="1"/>
<rect x="73.20" y="638.20" width="2.00" height="11.10" fill="#ff0000" fill-opacity="1"/>
<rect x="95.30" y="638.20" width="1.00" height="11.10" fill="#ff0000" fill-opacity="1"/>
<rect x="120.30" y="638.20" width="0.80" height="11.10" fill="#ff0000" fill-opacity="0.55"/>
<rect x="121.90" y="638.20" width="0.80" height="11.10" fill="#ff0000" fill-opacity="0.55"/>
<rect x="155.30" y="638.20" width="0.80" height="11.10" fill="#ff0000" fill-opacity="0.55"/>
<rect x="160.10" y="638.20" width="1.00" height="11.10" fill="#ff0000" fill-opacity="1"/>
<rect x="165.40" y="638.20" width="0.80" height="11.10" fill="#ff0000" fill-opacity="0.55"/>
<rect x="170.20" y="638.20" width="2.00" height="11.10" fill="#ff0000" fill-opacity="1"/>
<rect x="217.40" y="638.20" width="2.00" height="11.10" fill="#ff0000" fill-opacity="1"/>
<rect x="224.70" y="638.20" width="0.80" height="11.10" fill="#ff0000" fill-opacity="0.55"/>
<rect x="229.50" y="638.20" width="1.00" height="11.10" fill="#ff0000" fill-opacity="1"/>
<rect x="244.50" y="638.20" width="1.00" height="11.10" fill="#ff0000" fill-opacity="1"/>
<rect x="247.90" y="638.20" width="1.00" height="11.10" fill="#ff0000" fill-opacity="1"/>
<rect x="250.90" y="638.20" width="1.00" height="11.10" fill="#ff0000" fill-opacity="1"/>
<rect x="268.60" y="638.20" width="0.80" height="11.10" fill="#ff0000" fill-opacity="0.55"/>
<rect x="273.10" y="638.20" width="0.80" height="11.10" fill="#ff0000" fill-opacity="0.55"/>
<rect x="278.30" y="638.20" width="8.40" height="11.10" fill="#ff0000" fill-opacity="1"/>
<rect x="286.70" y="638.20" width="1.30" height="11.10" fill="#0000ff" fill-opacity="1"/>
<rect x="398.20" y="638.20" width="1.00" height="11.10" fill="#ff0000" fill-opacity="1"/>
<rect x="401.70" y="638.20" width="1.00" height="11.10" fill="#ff0000" fill-opacity="1"/>
<rect x="407.00" y="638.20" width="1.00" height="11.10" fill="#ff0000" fill-opacity="1"/>
<rect x="410.80" y="638.20" width="2.40" height="11.10" fill="#ff0000" fill-opacity="1"/>
<rect x="415.70" y="638.20" width="4.30" height="11.10" fill="#ff0000" fill-opacity="1"/>
<rect x="422.30" y="638.20" width="3.10" height="11.10" fill="#ff0000" fill-opacity="1"/>
<rect x="428.00" y="638.20" width="1.00" height="11.10" fill="#ff0000" fill-opacity="1"/>
<rect x="429.50" y="638.20" width="1.00" height="11.10" fill="#ff0000" fill-opacity="1"/>
<rect x="439.00" y="638.20" width="1.00" height="11.10" fill="#ff0000" fill-opacity="1"/>
<rect x="442.30" y="638.20" width="1.00" height="11.10" fill="#ff0000" fill-opacity="1"/>
<rect x="450.90" y="638.20" width="3.90" height="11.10" fill="#ff0000" fill-opacity="1"/>
<rect x="461.60" y="638.20" width="0.80" height="11.10" fill="#ff0000" fill-opacity="1"/>
<rect x="463.50" y="638.20" width="0.80" height="11.10" fill="#ff0000" fill-opacity="1"/>
<rect x="465.50" y="638.20" width="2.30" height="11.10" fill="#ff0000" fill-opacity="1"/>
<rect x="472.70" y="638.20" width="1.00" height="11.10" fill="#ff0000" fill-opacity="1"/>
<rect x="484.00" y="638.20" width="0.80" height="11.10" fill="#ff0000" fill-opacity="0.55"/>
<rect x="485.20" y="638.20" width="0.80" height="11.10" fill="#ff0000" fill-opacity="0.55"/>
<rect x="488.20" y="638.20" width="0.80" height="11.10" fill="#ff0000" fill-opacity="1"/>
<rect x="493.60" y="638.20" width="0.80" height="11.10" fill="#ff0000" fill-opacity="1"/>
<rect x="504.30" y="638.20" width="0.80" height="11.10" fill="#ff0000" fill-opacity="0.55"/>
<rect x="506.30" y="638.20" width="0.80" height="11.10" fill="#ff0000" fill-opacity="0.55"/>
<rect x="512.50" y="638.20" width="2.50" height="11.10" fill="#ff0000" fill-opacity="1"/>
<rect x="518.90" y="638.20" width="1.00" height="11.10" fill="#ff0000" fill-opacity="1"/>
<rect x="521.40" y="638.20" width="1.00" height="11.10" fill="#ff0000" fill-opacity="1"/>
<rect x="524.70" y="638.20" width="0.80" height="11.10" fill="#ff0000" fill-opacity="1"/>
<rect x="529.60" y="638.20" width="0.80" height="11.10" fill="#ff0000" fill-opacity="1"/>
<rect x="533.40" y="638.20" width="0.80" height="11.10" fill="#ff0000" fill-opacity="1"/>
<rect x="536.90" y="638.20" width="0.80" height="11.10" fill="#ff0000" fill-opacity="1"/>
<rect x="542.20" y="638.20" width="3.90" height="11.10" fill="#ff0000" fill-opacity="1"/>
<rect x="554.70" y="638.20" width="2.00" height="11.10" fill="#ff0000" fill-opacity="1"/>
<rect x="559.10" y="638.20" width="0.90" height="11.10" fill="#ff0000" fill-opacity="1"/>
<rect x="563.00" y="638.20" width="5.30" height="11.10" fill="#ff0000" fill-opacity="1"/>
<rect x="590.60" y="638.20" width="1.00" height="11.10" fill="#ff0000" fill-opacity="1"/>
<rect x="594.10" y="638.20" width="0.90" height="11.10" fill="#ff0000" fill-opacity="1"/>
<rect x="597.40" y="638.20" width="0.80" height="11.10" fill="#ff0000" fill-opacity="0.55"/>
<rect x="602.30" y="638.20" width="2.00" height="11.10" fill="#ff0000" fill-opacity="1"/>
<rect x="605.40" y="638.20" width="0.80" height="11.10" fill="#ff0000" fill-opacity="0.55"/>
<rect x="608.10" y="638.20" width="0.80" height="11.10" fill="#ff0000" fill-opacity="0.55"/>
<rect x="609.30" y="638.20" width="0.80" height="11.10" fill="#ff0000" fill-opacity="0.55"/>
<rect x="612.60" y="638.20" width="2.00" height="11.10" fill="#ff0000" fill-opacity="1"/>
<rect x="620.40" y="638.20" width="1.00" height="11.10" fill="#ff0000" fill-opacity="1"/>
<rect x="621.70" y="638.20" width="0.80" height="11.10" fill="#ff0000" fill-opacity="0.55"/>
<rect x="627.50" y="638.20" width="2.00" height="11.10" fill="#ff0000" fill-opacity="1"/>
<rect x="633.40" y="638.20" width="1.60" height="11.10" fill="#ff0000" fill-opacity="1"/>
<rect x="636.50" y="638.20" width="0.80" height="11.10" fill="#ff0000" fill-opacity="1"/>
<rect x="646.00" y="638.20" width="0.80" height="11.10" fill="#ff0000" fill-opacity="0.55"/>
<rect x="647.30" y="638.20" width="0.80" height="11.10" fill="#ff0000" fill-opacity="0.55"/>
<rect x="648.50" y="638.20" width="0.80" height="11.10" fill="#ff0000" fill-opacity="0.55"/>
<rect x="650.10" y="638.20" width="5.80" height="11.10" fill="#ff0000" fill-opacity="1"/>
<rect x="230.50" y="640.53" width="0.70" height="6.88" fill="#8b00c9" fill-opacity="1"/>
<rect x="238.30" y="640.53" width="0.70" height="6.88" fill="#8b00c9" fill-opacity="1"/>
<rect x="655.90" y="641.90" width="1.10" height="3.70" fill="#00e000" fill-opacity="1"/>
<rect x="68.20" y="654.10" width="613.60" height="11.10" fill="#bebebe"/>
<text x="16.30" y="663.60" font-size="8.8" fill="#000" font-weight="bold" text-anchor="start" textLength="20.00" lengthAdjust="spacingAndGlyphs" style='font-family:"Liberation Sans", sans-serif'>ATM</text>
<text x="53.50" y="663.60" font-size="8.8" fill="#000" font-weight="bold" text-anchor="start" textLength="13.10" lengthAdjust="spacingAndGlyphs" style='font-family:"Liberation Sans", sans-serif'>7%</text>
<rect x="96.00" y="654.10" width="1.00" height="11.10" fill="#0000ff" fill-opacity="1"/>
<rect x="123.00" y="654.10" width="1.00" height="11.10" fill="#ff0000" fill-opacity="1"/>
<rect x="163.10" y="654.10" width="1.00" height="11.10" fill="#0000ff" fill-opacity="1"/>
<rect x="219.20" y="654.10" width="0.80" height="11.10" fill="#ff0000" fill-opacity="1"/>
<rect x="228.90" y="654.10" width="0.80" height="11.10" fill="#0000ff" fill-opacity="0.55"/>
<rect x="288.00" y="654.10" width="0.80" height="11.10" fill="#0000ff" fill-opacity="1"/>
<rect x="407.70" y="654.10" width="0.80" height="11.10" fill="#ff0000" fill-opacity="1"/>
<rect x="472.30" y="654.10" width="1.00" height="11.10" fill="#0000ff" fill-opacity="1"/>
<rect x="517.50" y="654.10" width="1.00" height="11.10" fill="#0000ff" fill-opacity="1"/>
<rect x="530.50" y="654.10" width="0.80" height="11.10" fill="#0000ff" fill-opacity="0.55"/>
<rect x="563.40" y="654.10" width="1.00" height="11.10" fill="#0000ff" fill-opacity="1"/>
<rect x="568.70" y="654.10" width="1.00" height="11.10" fill="#0000ff" fill-opacity="1"/>
<rect x="611.40" y="654.10" width="1.00" height="11.10" fill="#0000ff" fill-opacity="1"/>
<rect x="627.10" y="654.10" width="1.00" height="11.10" fill="#0000ff" fill-opacity="1"/>
<rect x="650.50" y="654.10" width="1.00" height="11.10" fill="#ff0000" fill-opacity="1"/>
<rect x="81.00" y="656.43" width="1.00" height="6.88" fill="#8b00c9" fill-opacity="1"/>
<rect x="84.70" y="656.43" width="0.70" height="6.88" fill="#8b00c9" fill-opacity="1"/>
<rect x="171.60" y="656.43" width="0.60" height="6.88" fill="#8b00c9" fill-opacity="1"/>
<rect x="72.40" y="657.80" width="0.60" height="3.70" fill="#00e000" fill-opacity="1"/>
<rect x="86.00" y="657.80" width="0.80" height="3.70" fill="#d09c06" fill-opacity="1"/>
<rect x="172.20" y="657.80" width="0.80" height="3.70" fill="#00e000" fill-opacity="1"/>
<rect x="223.50" y="657.80" width="0.50" height="3.70" fill="#00e000" fill-opacity="1"/>
<rect x="252.80" y="657.80" width="0.80" height="3.70" fill="#008000" fill-opacity="1"/>
<rect x="273.50" y="657.80" width="0.70" height="3.70" fill="#008000" fill-opacity="1"/>
<rect x="279.30" y="657.80" width="0.60" height="3.70" fill="#00e000" fill-opacity="1"/>
<rect x="288.80" y="657.80" width="4.10" height="3.70" fill="#00e000" fill-opacity="1"/>
<rect x="400.60" y="657.80" width="1.00" height="3.70" fill="#1e1e1e" fill-opacity="1"/>
<rect x="400.60" y="659.05" width="1.00" height="1.2" fill="#e8e8e8"/>
<rect x="413.70" y="657.80" width="0.60" height="3.70" fill="#00e000" fill-opacity="1"/>
<rect x="419.60" y="657.80" width="0.60" height="3.70" fill="#00e000" fill-opacity="1"/>
<rect x="433.20" y="657.80" width="0.80" height="3.70" fill="#1e1e1e" fill-opacity="1"/>
<rect x="433.20" y="659.05" width="0.80" height="1.2" fill="#e8e8e8"/>
<rect x="452.50" y="657.80" width="1.00" height="3.70" fill="#1e1e1e" fill-opacity="1"/>
<rect x="452.50" y="659.05" width="1.00" height="1.2" fill="#e8e8e8"/>
<rect x="465.30" y="657.80" width="0.80" height="3.70" fill="#1e1e1e" fill-opacity="1"/>
<rect x="465.30" y="659.05" width="0.80" height="1.2" fill="#e8e8e8"/>
<rect x="473.50" y="657.80" width="0.50" height="3.70" fill="#000000" fill-opacity="1"/>
<rect x="481.40" y="657.80" width="0.60" height="3.70" fill="#d09c06" fill-opacity="1"/>
<rect x="499.50" y="657.80" width="0.60" height="3.70" fill="#008000" fill-opacity="1"/>
<rect x="507.60" y="657.80" width="0.60" height="3.70" fill="#00e000" fill-opacity="1"/>
<rect x="512.00" y="657.80" width="0.60" height="3.70" fill="#000000" fill-opacity="1"/>
<rect x="519.00" y="657.80" width="2.00" height="3.70" fill="#1e1e1e" fill-opacity="1"/>
<rect x="519.00" y="659.05" width="2.00" height="1.2" fill="#e8e8e8"/>
<rect x="542.20" y="657.80" width="0.60" height="3.70" fill="#d09c06" fill-opacity="1"/>
<rect x="569.70" y="657.80" width="0.60" height="3.70" fill="#000000" fill-opacity="1"/>
<rect x="591.60" y="657.80" width="0.60" height="3.70" fill="#00e000" fill-opacity="1"/>
<rect x="598.00" y="657.80" width="0.60" height="3.70" fill="#00e000" fill-opacity="1"/>
<rect x="657.10" y="657.80" width="0.80" height="3.70" fill="#1e1e1e" fill-opacity="1"/>
<rect x="657.10" y="659.05" width="0.80" height="1.2" fill="#e8e8e8"/>
<rect x="15.90" y="685.30" width="6.80" height="17.30" fill="#bebebe"/>
<rect x="15.90" y="690.90" width="6.80" height="6.20" fill="#991100"/>
<text x="24.20" y="697.40" font-size="8.8" fill="#000" font-weight="normal" text-anchor="start" textLength="141.20" lengthAdjust="spacingAndGlyphs" style='font-family:"Liberation Sans", sans-serif'>Inframe Mutation (putative driver)</text>
<rect x="171.10" y="685.30" width="6.40" height="17.30" fill="#bebebe"/>
<rect x="171.10" y="690.90" width="6.40" height="6.20" fill="#d09c06"/>
<text x="179.90" y="697.40" font-size="8.8" fill="#000" font-weight="normal" text-anchor="start" textLength="167.40" lengthAdjust="spacingAndGlyphs" style='font-family:"Liberation Sans", sans-serif'>Inframe Mutation (unknown significance)</text>
<rect x="352.60" y="685.30" width="6.60" height="17.30" fill="#bebebe"/>
<rect x="352.60" y="690.90" width="6.60" height="6.20" fill="#00e000"/>
<text x="360.50" y="697.40" font-size="8.8" fill="#000" font-weight="normal" text-anchor="start" textLength="174.30" lengthAdjust="spacingAndGlyphs" style='font-family:"Liberation Sans", sans-serif'>Missense Mutation (unknown significance)</text>
<rect x="536.00" y="685.30" width="6.30" height="17.30" fill="#bebebe"/>
<rect x="536.00" y="690.90" width="6.30" height="6.20" fill="#f5921e"/>
<text x="543.90" y="697.40" font-size="8.8" fill="#000" font-weight="normal" text-anchor="start" textLength="132.80" lengthAdjust="spacingAndGlyphs" style='font-family:"Liberation Sans", sans-serif'>Splice Mutation (putative driver)</text>
<rect x="15.90" y="707.00" width="6.80" height="17.60" fill="#bebebe"/>
<rect x="15.90" y="713.10" width="6.80" height="5.90" fill="#000000"/>
<text x="24.20" y="719.50" font-size="8.8" fill="#000" font-weight="normal" text-anchor="start" textLength="151.70" lengthAdjust="spacingAndGlyphs" style='font-family:"Liberation Sans", sans-serif'>Truncating Mutation (putative driver)</text>
<rect x="179.90" y="707.00" width="6.40" height="17.60" fill="#bebebe"/>
<rect x="179.90" y="713.10" width="6.40" height="5.90" fill="#7d9bc6"/>
<text x="188.30" y="719.50" font-size="8.8" fill="#000" font-weight="normal" text-anchor="start" textLength="179.70" lengthAdjust="spacingAndGlyphs" style='font-family:"Liberation Sans", sans-serif'>Truncating Mutation (unknown significance)</text>
<rect x="369.70" y="707.00" width="6.10" height="17.60" fill="#bebebe"/>
<rect x="369.70" y="708.80" width="6.10" height="12.20" fill="#9030ee"/>
<text x="377.80" y="719.50" font-size="8.8" fill="#000" font-weight="normal" text-anchor="start" textLength="140.00" lengthAdjust="spacingAndGlyphs" style='font-family:"Liberation Sans", sans-serif'>Structural Variant (putative driver)</text>
<rect x="521.30" y="707.00" width="6.10" height="17.60" fill="#bebebe"/>
<rect x="521.30" y="714.00" width="6.10" height="2.90" fill="#fff"/>
<text x="529.60" y="719.50" font-size="8.8" fill="#000" font-weight="normal" text-anchor="start" textLength="77.80" lengthAdjust="spacingAndGlyphs" style='font-family:"Liberation Sans", sans-serif'>Germline Mutation</text>
<rect x="15.9" y="730.6" width="6.8" height="17.8" rx="1" fill="#ff0000"/>
<text x="24.10" y="742.50" font-size="8.8" fill="#000" font-weight="normal" text-anchor="start" textLength="53.60" lengthAdjust="spacingAndGlyphs" style='font-family:"Liberation Sans", sans-serif'>Amplification</text>
<rect x="84.9" y="730.6" width="5.6" height="17.8" rx="1" fill="#0000ff"/>
<text x="91.40" y="742.60" font-size="8.8" fill="#000" font-weight="normal" text-anchor="start" textLength="58.00" lengthAdjust="spacingAndGlyphs" style='font-family:"Liberation Sans", sans-serif'>Deep Deletion</text>
<rect x="153.1" y="730.5" width="6.6" height="17.6" rx="1" fill="#bebebe"/>
<text x="161.60" y="742.70" font-size="8.8" fill="#000" font-weight="normal" text-anchor="start" textLength="53.50" lengthAdjust="spacingAndGlyphs" style='font-family:"Liberation Sans", sans-serif'>No alteration</text>
</svg>
</div></body></html>
